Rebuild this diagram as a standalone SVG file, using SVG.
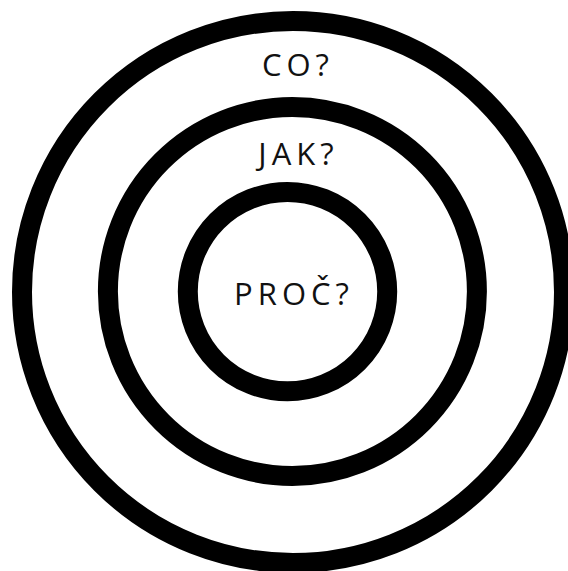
<svg xmlns="http://www.w3.org/2000/svg" width="568" height="571" viewBox="0 0 568 571">
<style>
.ring{fill:none;stroke:#000;stroke-width:20}
.lbl{font-family:"Open Sans","Noto Sans",sans-serif;font-size:31px;letter-spacing:5px;fill:#111;text-anchor:middle}
</style>
<rect width="568" height="571" fill="#fff"/>
<g id="co">
<circle class="ring" cx="293" cy="292" r="271"/>
<text class="lbl" x="298" y="76">CO?</text>
</g>
<g id="jak">
<circle class="ring" cx="292.4" cy="291.5" r="184.5"/>
<text class="lbl" x="298.5" y="165">JAK?</text>
</g>
<g id="proc">
<circle class="ring" cx="287.5" cy="291.6" r="99.7"/>
<text class="lbl" x="294" y="305">PROČ?</text>
</g>
</svg>
